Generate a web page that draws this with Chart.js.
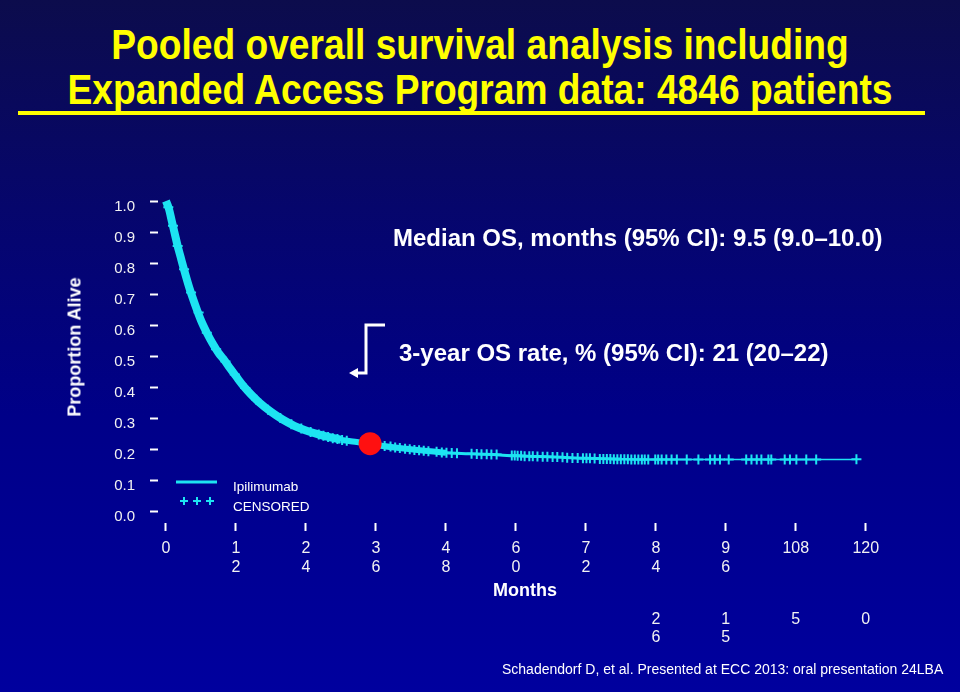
<!DOCTYPE html>
<html>
<head>
<meta charset="utf-8">
<script src="https://cdn.jsdelivr.net/npm/chart.js@4.4.1/dist/chart.umd.min.js"></script>
<style>
  body { margin: 0; background: #000080; }
  #slide {
    position: relative; width: 960px; height: 692px; overflow: hidden;
    background: linear-gradient(to bottom, #0c0c4c 0%, #06066c 30%, #000088 60%, #00009e 100%);
    font-family: 'Liberation Sans', Arial, sans-serif;
  }
  #slide canvas { position: absolute; left: 0; top: 0; }
  .title {
    position: absolute; left: 0; top: 22px; width: 960px; text-align: center;
    color: #ffff00; font-family: 'Liberation Sans Narrow', 'Arial Narrow', 'Liberation Sans', sans-serif;
    font-weight: bold; font-size: 42px; line-height: 45px;
    transform: scaleX(0.885); transform-origin: 480px 0;
  }
  .rule { position: absolute; left: 18px; top: 111px; width: 907px; height: 4px; background: #ffff00; }
  .note { position: absolute; color: #ffffff; font-weight: bold; font-size: 24px; white-space: nowrap; transform: translateY(-50%); }
  .ylab {
    position: absolute; left: 75px; top: 347px; color: #ffffff; font-weight: bold; font-size: 18px;
    white-space: nowrap; transform: translate(-50%, -50%) rotate(-90deg);
  }
  .leg { position: absolute; left: 233px; color: #ffffff; font-size: 13.5px; transform: translateY(-50%); }
  .cite { position: absolute; left: 502px; top: 669px; color: #ffffff; font-size: 14px; white-space: nowrap; transform: translateY(-50%); }
</style>
</head>
<body>
<div id="slide">
  <div class="title">Pooled overall survival analysis including<br>Expanded Access Program data: 4846 patients</div>
  <div class="rule"></div>
  <canvas id="osChart" width="960" height="692"></canvas>
  <div class="ylab">Proportion Alive</div>
  <div class="note" style="left:393px; top:238px;">Median OS, months (95% CI): 9.5 (9.0–10.0)</div>
  <div class="note" style="left:399px; top:353px;">3-year OS rate, % (95% CI): 21 (20–22)</div>
  <svg width="960" height="692" style="position:absolute;left:0;top:0;pointer-events:none">
    <polyline points="385,325 366,325 366,373 357,373" fill="none" stroke="#ffffff" stroke-width="3"/>
    <polygon points="349,373 358,368 358,378" fill="#ffffff"/>
    <line x1="176" y1="482" x2="217" y2="482" stroke="#1de4f2" stroke-width="3"/>
    <path d="M180,501 h8 M184,497 v8 M193,501 h8 M197,497 v8 M206,501 h8 M210,497 v8" stroke="#1de4f2" stroke-width="2"/>
  </svg>
  <div class="leg" style="top:486px;">Ipilimumab</div>
  <div class="leg" style="top:506px;">CENSORED</div>
  <div class="cite">Schadendorf D, et al. Presented at ECC 2013: oral presentation 24LBA</div>
</div>

<script>
// ---- data ----
const survMonths = [0, 0.5, 1, 1.5, 2, 2.5, 3, 4, 5, 6, 7, 8, 9, 10, 11, 12, 13, 14, 15, 16, 18, 20, 22, 24, 26, 28, 30, 32, 34, 36, 40, 44, 48, 52, 56, 60, 64, 68, 72, 78, 84, 96, 108, 118.4];
const survProb = [1.0, 0.975, 0.935, 0.895, 0.855, 0.82, 0.785, 0.72, 0.665, 0.615, 0.575, 0.54, 0.51, 0.487, 0.46, 0.435, 0.41, 0.388, 0.368, 0.35, 0.32, 0.295, 0.275, 0.26, 0.248, 0.238, 0.23, 0.224, 0.219, 0.213, 0.203, 0.195, 0.188, 0.185, 0.182, 0.178, 0.176, 0.173, 0.170, 0.168, 0.166, 0.166, 0.166, 0.166];

const censorMonths = [0.4, 1.2, 2.0, 3.1, 4.3, 5.6, 7.0, 8.6, 10.2, 11.8, 13.6, 15.5, 17.5, 19.6, 21.5, 23.2, 24.8, 26.2, 27.0, 27.8, 28.6, 29.4, 30.2, 31.0, 33.5, 37.5, 38.5, 39.3, 40.1, 41.0, 41.8, 42.6, 43.4, 44.2, 45.0,
  46.4, 47.3, 48.1, 49.0, 49.9, 52.4, 53.3, 54.1, 55.0, 55.8, 56.7, 59.3, 59.8, 60.3, 60.9, 61.5, 62.3, 62.9, 63.7, 64.6, 65.4, 66.3, 67.1, 68.0, 68.8, 69.7, 70.6,
  71.5, 72.1, 72.7, 73.5, 74.4, 75.0, 75.6, 76.2, 76.8, 77.4, 78.0, 78.6, 79.2, 79.8, 80.4, 81.0, 81.6, 82.1, 82.7, 83.9, 84.4, 85.0, 85.8, 86.7, 87.6,
  89.3, 91.3, 93.3, 94.1, 95.0, 96.5, 99.5, 100.4, 101.3, 102.1, 103.3, 103.8, 106.1, 107.0, 108.1, 109.8, 111.5, 118.4];
const censorProb = [0.98, 0.92, 0.855, 0.78, 0.705, 0.64, 0.575, 0.522, 0.482, 0.44, 0.397, 0.359, 0.327, 0.30, 0.28, 0.266, 0.255, 0.247, 0.243, 0.239, 0.235, 0.232, 0.229, 0.227, 0.22, 0.21, 0.208, 0.205, 0.203, 0.201, 0.199, 0.197, 0.196, 0.194, 0.193,
  0.191, 0.189, 0.188, 0.187, 0.186, 0.185, 0.184, 0.183, 0.183, 0.182, 0.182, 0.179, 0.179, 0.178, 0.178, 0.177, 0.177, 0.177, 0.176, 0.175, 0.175, 0.174, 0.174, 0.173, 0.172, 0.171, 0.171,
  0.170, 0.170, 0.170, 0.169, 0.168, 0.168, 0.168, 0.168, 0.167, 0.167, 0.167, 0.167, 0.167, 0.166, 0.166, 0.166, 0.166, 0.166, 0.166, 0.166, 0.166, 0.166, 0.166, 0.166, 0.166,
  0.166, 0.166, 0.166, 0.166, 0.166, 0.166, 0.166, 0.166, 0.166, 0.166, 0.166, 0.166, 0.166, 0.166, 0.166, 0.166, 0.166, 0.167];

const threeYearMonth = 35;
const threeYearProb = 0.217;

const xTickValues = [0, 12, 24, 36, 48, 60, 72, 84, 96, 108, 120];
const xTickLabels = ['0', ['1', '2'], ['2', '4'], ['3', '6'], ['4', '8'], ['6', '0'], ['7', '2'], ['8', '4'], ['9', '6'], '108', '120'];
const yTickValues = [0, 0.1, 0.2, 0.3, 0.4, 0.5, 0.6, 0.7, 0.8, 0.9, 1.0];
const yTickLabels = ['0.0', '0.1', '0.2', '0.3', '0.4', '0.5', '0.6', '0.7', '0.8', '0.9', '1.0'];

// numbers at risk still visible under the axis
const riskMonths = [84, 96, 108, 120];
const riskLabels = [['2', '6'], ['1', '5'], ['5'], ['0']];

const CYAN = '#1de4f2';
const TEXT = '#f2f2f2';

Chart.defaults.font.family = "'Liberation Sans', Arial, sans-serif";

// draws the number-at-risk row using the x scale
const atRiskRow = {
  id: 'atRiskRow',
  afterDraw(chart) {
    const { ctx, chartArea, scales } = chart;
    ctx.save();
    ctx.fillStyle = TEXT;
    ctx.font = "16px 'Liberation Sans', Arial, sans-serif";
    ctx.textAlign = 'center';
    ctx.textBaseline = 'middle';
    riskMonths.forEach((m, i) => {
      const x = scales.x.getPixelForValue(m);
      riskLabels[i].forEach((t, j) => {
        ctx.fillText(t, x, chartArea.bottom + 97 + j * 18);
      });
    });
    ctx.restore();
  }
};

// band gets thinner where censoring thins out
function widthFor(ctx) {
  const m = ctx.p0.parsed.x;
  if (m < 30) return 8;
  if (m < 46) return 6;
  if (m < 74) return 3;
  return 1.5;
}

new Chart(document.getElementById('osChart'), {
  type: 'line',
  data: {
    datasets: [
      {
        label: '3-year',
        type: 'scatter',
        data: [{ x: threeYearMonth, y: threeYearProb }],
        backgroundColor: '#ff1010',
        borderWidth: 0,
        pointRadius: 11.5,
        order: 0
      },
      {
        label: 'CENSORED',
        type: 'scatter',
        data: censorMonths.map((m, i) => ({ x: m, y: censorProb[i] })),
        pointStyle: 'cross',
        pointRadius: 5,
        borderWidth: 2,
        borderColor: CYAN,
        order: 1
      },
      {
        label: 'Ipilimumab',
        data: survMonths.map((m, i) => ({ x: m, y: survProb[i] })),
        borderColor: CYAN,
        borderWidth: 5,
        segment: { borderWidth: widthFor },
        cubicInterpolationMode: 'monotone',
        pointRadius: 0,
        fill: false,
        order: 2
      }
    ]
  },
  options: {
    responsive: false,
    animation: false,
    layout: { padding: { left: 60, right: 68, top: 190, bottom: 89 } },
    plugins: { legend: { display: false }, tooltip: { enabled: false } },
    scales: {
      x: {
        type: 'linear',
        min: -1.37,
        max: 124.5,
        afterBuildTicks: s => { s.ticks = xTickValues.map(v => ({ value: v })); },
        afterFit: s => { s.height = 80; },
        border: { display: false },
        grid: { drawOnChartArea: false, tickLength: 8, tickWidth: 2, tickColor: '#ffffff' },
        ticks: {
          color: TEXT, font: { size: 16 }, padding: 8, autoSkip: false, maxRotation: 0, minRotation: 0,
          callback: (v, i) => xTickLabels[i]
        },
        title: { display: true, text: 'Months', color: '#ffffff', font: { size: 18, weight: 'bold' }, padding: { top: 0, bottom: 1 } }
      },
      y: {
        min: -0.0387,
        max: 1.0355,
        afterBuildTicks: s => { s.ticks = yTickValues.map(v => ({ value: v })); },
        afterFit: s => { s.width = 98; },
        border: { display: false },
        grid: { drawOnChartArea: false, tickLength: 8, tickWidth: 2, tickColor: '#ffffff' },
        ticks: { color: TEXT, font: { size: 15 }, padding: 15, labelOffset: 6, callback: (v, i) => yTickLabels[i] }
      }
    }
  },
  plugins: [atRiskRow]
});
</script>
</body>
</html>
